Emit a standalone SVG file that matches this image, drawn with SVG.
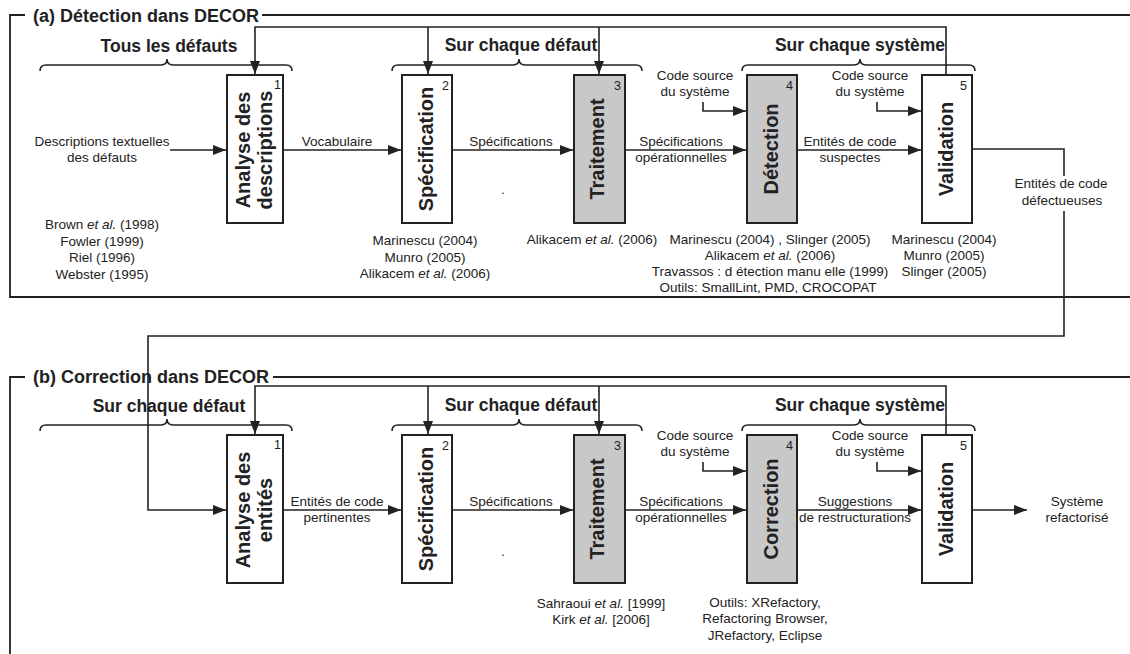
<svg xmlns="http://www.w3.org/2000/svg" width="1130" height="654" viewBox="0 0 1130 654">
<style>
  .ln{fill:none;stroke:#222;stroke-width:1.6}
  .fr{fill:none;stroke:#222;stroke-width:1.8}
  .box{fill:#fff;stroke:#222;stroke-width:2}
  .gbox{fill:#c8c8c8;stroke:#222;stroke-width:2}
  .t{font-family:"Liberation Sans",Arial,sans-serif;font-size:13.5px;fill:#222;text-anchor:middle}
  .num{font-family:"Liberation Sans",Arial,sans-serif;font-size:12.5px;fill:#222;text-anchor:end}
  .title{font-family:"Liberation Sans",Arial,sans-serif;font-size:18px;font-weight:bold;fill:#222}
  .br{font-family:"Liberation Sans",Arial,sans-serif;font-size:17.5px;font-weight:bold;fill:#222;text-anchor:middle}
  .bl{font-family:"Liberation Sans",Arial,sans-serif;font-size:20px;font-weight:bold;fill:#222;text-anchor:middle}
  .arr{marker-end:url(#ah)}
</style>
<defs>
  <marker id="ah" viewBox="0 0 13 10" refX="13" refY="5" markerWidth="13" markerHeight="10" markerUnits="userSpaceOnUse" orient="auto">
    <path d="M0,0 L13,5 L0,10 z" fill="#222"/>
  </marker>
</defs>
<rect width="1130" height="654" fill="#fff"/>

<!-- Frames -->
<g id="frame-a">
  <path class="fr" d="M25,15 H10 V297 H1130"/>
  <path class="fr" d="M262,15 H1130"/>
  <text class="title" x="33" y="21.5">(a) Détection dans DECOR</text>
</g>
<g id="frame-b">
  <path class="fr" d="M25,377 H10 V654"/>
  <path class="fr" d="M273,377 H1130"/>
  <text class="title" x="33" y="382.5">(b) Correction dans DECOR</text>
</g>

<!-- Braces -->
<g id="braces-a">
  <path class="ln" d="M40,71 Q40,65 46,65 H161 Q167,65 167,59 Q167,65 173,65 H286 Q292,65 292,71"/>
  <text class="br" x="169" y="52">Tous les défauts</text>
  <path class="ln" d="M392,71 Q392,65 398,65 H513 Q519,65 519,59 Q519,65 525,65 H636 Q642,65 642,71"/>
  <text class="br" x="521" y="51">Sur chaque défaut</text>
  <path class="ln" d="M742,71 Q742,65 748,65 H854 Q860,65 860,59 Q860,65 866,65 H969 Q975,65 975,71"/>
  <text class="br" x="860" y="51">Sur chaque système</text>
</g>
<g id="braces-b">
  <path class="ln" d="M40,431 Q40,425 46,425 H161 Q167,425 167,419 Q167,425 173,425 H286 Q292,425 292,431"/>
  <text class="br" x="169" y="412">Sur chaque défaut</text>
  <path class="ln" d="M392,431 Q392,425 398,425 H513 Q519,425 519,419 Q519,425 525,425 H636 Q642,425 642,431"/>
  <text class="br" x="521" y="411">Sur chaque défaut</text>
  <path class="ln" d="M742,431 Q742,425 748,425 H854 Q860,425 860,419 Q860,425 866,425 H969 Q975,425 975,431"/>
  <text class="br" x="860" y="411">Sur chaque système</text>
</g>

<!-- Connectors -->
<g id="connectors">
  <!-- (a) -->
  <path class="ln arr" d="M170,150 H226"/>
  <path class="ln arr" d="M283,150 H401"/>
  <path class="ln arr" d="M452,150 H573"/>
  <path class="ln arr" d="M625,150 H746"/>
  <path class="ln arr" d="M797,150 H921"/>
  <path class="ln arr" d="M703,102 V111 H746"/>
  <path class="ln arr" d="M877,102 V111 H921"/>
  <path class="ln arr" d="M946,75 V27 H255 V74"/>
  <path class="ln arr" d="M428,27 V74"/>
  <path class="ln arr" d="M599,27 V74"/>
  <path class="ln" d="M972,149 H1064 V176"/>
  <path class="ln arr" d="M1064,211 V336 H148 V510 H226"/>
  <!-- (b) -->
  <path class="ln arr" d="M283,510 H401"/>
  <path class="ln arr" d="M452,510 H573"/>
  <path class="ln arr" d="M625,510 H746"/>
  <path class="ln arr" d="M797,510 H921"/>
  <path class="ln arr" d="M972,510 H1027"/>
  <path class="ln arr" d="M703,462 V471 H746"/>
  <path class="ln arr" d="M877,462 V471 H921"/>
  <path class="ln arr" d="M946,435 V386 H255 V434"/>
  <path class="ln arr" d="M428,386 V434"/>
  <path class="ln arr" d="M599,386 V434"/>
</g>

<!-- Connector labels -->
<g id="labels">
  <text class="t" x="102" y="146">Descriptions textuelles</text>
  <text class="t" x="102" y="162">des défauts</text>
  <text class="t" x="337" y="146">Vocabulaire</text>
  <text class="t" x="511" y="146">Spécifications</text>
  <text class="t" x="681" y="146">Spécifications</text>
  <text class="t" x="681" y="162">opérationnelles</text>
  <text class="t" x="850" y="146">Entités de code</text>
  <text class="t" x="850" y="162">suspectes</text>
  <text class="t" x="695" y="80">Code source</text>
  <text class="t" x="695" y="96">du système</text>
  <text class="t" x="870" y="80">Code source</text>
  <text class="t" x="870" y="96">du système</text>
  <text class="t" x="1061" y="188">Entités de code</text>
  <text class="t" x="1062" y="205">défectueuses</text>
  <text class="t" x="503" y="194">.</text>

  <text class="t" x="337" y="506">Entités de code</text>
  <text class="t" x="337" y="522">pertinentes</text>
  <text class="t" x="511" y="506">Spécifications</text>
  <text class="t" x="681" y="506">Spécifications</text>
  <text class="t" x="681" y="522">opérationnelles</text>
  <text class="t" x="855" y="506">Suggestions</text>
  <text class="t" x="855" y="522">de restructurations</text>
  <text class="t" x="1077" y="506">Système</text>
  <text class="t" x="1077" y="522">refactorisé</text>
  <text class="t" x="695" y="440">Code source</text>
  <text class="t" x="695" y="456">du système</text>
  <text class="t" x="870" y="440">Code source</text>
  <text class="t" x="870" y="456">du système</text>
  <text class="t" x="503" y="556">.</text>
</g>

<!-- References -->
<g id="refs">
  <text class="t" x="102" y="229">Brown <tspan font-style="italic">et al.</tspan> (1998)</text>
  <text class="t" x="102" y="245.5">Fowler (1999)</text>
  <text class="t" x="102" y="262">Riel (1996)</text>
  <text class="t" x="102" y="278.5">Webster (1995)</text>

  <text class="t" x="425" y="245">Marinescu (2004)</text>
  <text class="t" x="425" y="261.5">Munro (2005)</text>
  <text class="t" x="425" y="278">Alikacem <tspan font-style="italic">et al.</tspan> (2006)</text>

  <text class="t" x="592" y="244">Alikacem <tspan font-style="italic">et al.</tspan> (2006)</text>

  <text class="t" x="770" y="244">Marinescu (2004) , Slinger (2005)</text>
  <text class="t" x="770" y="260">Alikacem <tspan font-style="italic">et al.</tspan> (2006)</text>
  <text class="t" x="770" y="276">Travassos : d étection manu elle (1999)</text>
  <text class="t" x="768" y="292">Outils: SmallLint, PMD, CROCOPAT</text>

  <text class="t" x="944" y="244">Marinescu (2004)</text>
  <text class="t" x="944" y="260">Munro (2005)</text>
  <text class="t" x="944" y="276">Slinger (2005)</text>

  <text class="t" x="601" y="608">Sahraoui <tspan font-style="italic">et al.</tspan> [1999]</text>
  <text class="t" x="601" y="624">Kirk <tspan font-style="italic">et al.</tspan> [2006]</text>

  <text class="t" x="765" y="607">Outils: XRefactory,</text>
  <text class="t" x="765" y="623">Refactoring Browser,</text>
  <text class="t" x="765" y="640">JRefactory, Eclipse</text>
</g>

<!-- Nodes (a) -->
<g id="a1">
  <rect class="box" x="227" y="75" width="56" height="148"/>
  <text class="num" x="281" y="89">1</text>
  <g transform="translate(255,150) rotate(-90)">
    <text class="bl" x="0" y="-5">Analyse des</text>
    <text class="bl" x="0" y="17">descriptions</text>
  </g>
</g>
<g id="a2">
  <rect class="box" x="402" y="75" width="50" height="148"/>
  <text class="num" x="449" y="90">2</text>
  <text class="bl" transform="translate(427,149) rotate(-90)" y="6">Spécification</text>
</g>
<g id="a3">
  <rect class="gbox" x="574" y="75" width="51" height="148"/>
  <text class="num" x="621" y="90">3</text>
  <text class="bl" transform="translate(599,149) rotate(-90)" y="5">Traitement</text>
</g>
<g id="a4">
  <rect class="gbox" x="747" y="75" width="50" height="148"/>
  <text class="num" x="793" y="90">4</text>
  <text class="bl" transform="translate(772,149) rotate(-90)" y="6">Détection</text>
</g>
<g id="a5">
  <rect class="box" x="922" y="75" width="50" height="148"/>
  <text class="num" x="967" y="90">5</text>
  <text class="bl" transform="translate(947,149) rotate(-90)" y="6">Validation</text>
</g>

<!-- Nodes (b) -->
<g id="b1">
  <rect class="box" x="227" y="435" width="56" height="148"/>
  <text class="num" x="281" y="449">1</text>
  <g transform="translate(255,510) rotate(-90)">
    <text class="bl" x="0" y="-5">Analyse des</text>
    <text class="bl" x="0" y="17">entités</text>
  </g>
</g>
<g id="b2">
  <rect class="box" x="402" y="435" width="50" height="148"/>
  <text class="num" x="449" y="450">2</text>
  <text class="bl" transform="translate(427,509) rotate(-90)" y="6">Spécification</text>
</g>
<g id="b3">
  <rect class="gbox" x="574" y="435" width="51" height="148"/>
  <text class="num" x="621" y="450">3</text>
  <text class="bl" transform="translate(599,509) rotate(-90)" y="5">Traitement</text>
</g>
<g id="b4">
  <rect class="gbox" x="747" y="435" width="50" height="148"/>
  <text class="num" x="793" y="450">4</text>
  <text class="bl" transform="translate(772,509) rotate(-90)" y="6">Correction</text>
</g>
<g id="b5">
  <rect class="box" x="922" y="435" width="50" height="148"/>
  <text class="num" x="967" y="450">5</text>
  <text class="bl" transform="translate(947,509) rotate(-90)" y="6">Validation</text>
</g>
</svg>
